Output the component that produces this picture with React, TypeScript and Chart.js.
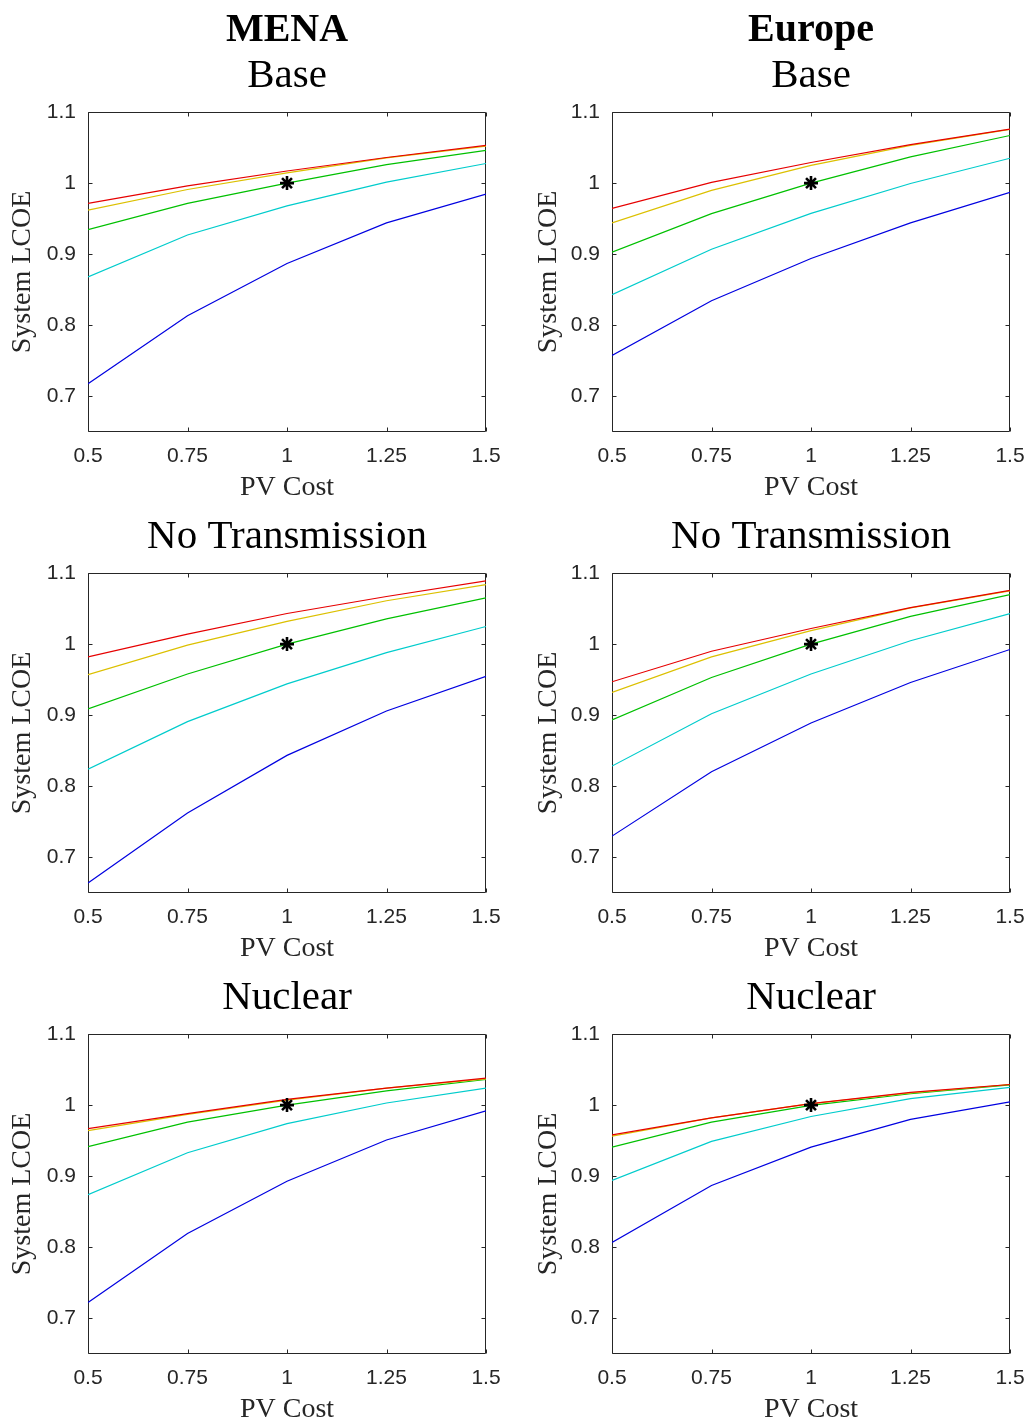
import React, { useEffect, useRef } from 'react';
import { Chart, registerables } from 'chart.js';

Chart.register(...registerables);

// ---------- data ----------
const PV_COST = [0.5, 0.75, 1, 1.25, 1.5];
const X_TICKS = [0.5, 0.75, 1, 1.25, 1.5];
const Y_TICKS = [0.7, 0.8, 0.9, 1, 1.1];
const REF_X = [1];
const REF_Y = [1];

const REGIONS = ['MENA', 'Europe'];
const SCENARIOS = ['Base', 'No Transmission', 'Nuclear'];
const SERIES_NAMES = ['Series 5', 'Series 4', 'Series 3', 'Series 2', 'Series 1'];

// MENA – Base
const MENA_BASE_RED = [0.9715, 0.996, 1.017, 1.036, 1.053];
const MENA_BASE_YELLOW = [0.962, 0.991, 1.0145, 1.0355, 1.052];
const MENA_BASE_GREEN = [0.9346, 0.9715, 1.0, 1.026, 1.046];
const MENA_BASE_CYAN = [0.868, 0.927, 0.968, 1.0014, 1.0276];
const MENA_BASE_BLUE = [0.718, 0.8135, 0.887, 0.944, 0.9846];

// Europe – Base
const EUR_BASE_RED = [0.9645, 1.001, 1.029, 1.054, 1.076];
const EUR_BASE_YELLOW = [0.944, 0.9897, 1.025, 1.053, 1.0757];
const EUR_BASE_GREEN = [0.903, 0.957, 1.0, 1.037, 1.067];
const EUR_BASE_CYAN = [0.843, 0.907, 0.9575, 0.9995, 1.035];
const EUR_BASE_BLUE = [0.7575, 0.8346, 0.894, 0.944, 0.987];

// MENA – No Transmission
const MENA_NOTX_RED = [0.982, 1.014, 1.043, 1.067, 1.089];
const MENA_NOTX_YELLOW = [0.957, 0.9986, 1.032, 1.061, 1.0836];
const MENA_NOTX_GREEN = [0.909, 0.958, 1.0, 1.0355, 1.065];
const MENA_NOTX_CYAN = [0.824, 0.891, 0.944, 0.988, 1.0248];
const MENA_NOTX_BLUE = [0.664, 0.7626, 0.8435, 0.906, 0.9547];

// Europe – No Transmission
const EUR_NOTX_RED = [0.947, 0.99, 1.022, 1.0514, 1.0757];
const EUR_NOTX_YELLOW = [0.932, 0.982, 1.019, 1.051, 1.075];
const EUR_NOTX_GREEN = [0.8935, 0.953, 1.0, 1.039, 1.0696];
const EUR_NOTX_CYAN = [0.8285, 0.902, 0.958, 1.0047, 1.043];
const EUR_NOTX_BLUE = [0.73, 0.8206, 0.889, 0.946, 0.9925];

// MENA – Nuclear
const MENA_NUC_RED = [0.967, 0.988, 1.008, 1.024, 1.038];
const MENA_NUC_YELLOW = [0.964, 0.987, 1.007, 1.024, 1.037];
const MENA_NUC_GREEN = [0.9416, 0.976, 1.0, 1.02, 1.036];
const MENA_NUC_CYAN = [0.874, 0.933, 0.974, 1.003, 1.024];
const MENA_NUC_BLUE = [0.7224, 0.8196, 0.893, 0.951, 0.992];

// Europe – Nuclear
const EUR_NUC_RED = [0.958, 0.982, 1.002, 1.018, 1.029];
const EUR_NUC_YELLOW = [0.9565, 0.982, 1.002, 1.017, 1.029];
const EUR_NUC_GREEN = [0.941, 0.976, 0.9995, 1.016, 1.0285];
const EUR_NUC_CYAN = [0.894, 0.949, 0.984, 1.009, 1.025];
const EUR_NUC_BLUE = [0.807, 0.887, 0.941, 0.98, 1.0047];

const PANEL_SERIES = [
  [
    [MENA_BASE_RED, MENA_BASE_YELLOW, MENA_BASE_GREEN, MENA_BASE_CYAN, MENA_BASE_BLUE],
    [EUR_BASE_RED, EUR_BASE_YELLOW, EUR_BASE_GREEN, EUR_BASE_CYAN, EUR_BASE_BLUE],
  ],
  [
    [MENA_NOTX_RED, MENA_NOTX_YELLOW, MENA_NOTX_GREEN, MENA_NOTX_CYAN, MENA_NOTX_BLUE],
    [EUR_NOTX_RED, EUR_NOTX_YELLOW, EUR_NOTX_GREEN, EUR_NOTX_CYAN, EUR_NOTX_BLUE],
  ],
  [
    [MENA_NUC_RED, MENA_NUC_YELLOW, MENA_NUC_GREEN, MENA_NUC_CYAN, MENA_NUC_BLUE],
    [EUR_NUC_RED, EUR_NUC_YELLOW, EUR_NUC_GREEN, EUR_NUC_CYAN, EUR_NUC_BLUE],
  ],
];

// ---------- styles ----------
const SERIES_COLORS = ['#e60000', '#dcc000', '#00c000', '#00cccc', '#0000e0'];
const SERIF = "'Liberation Serif', 'Times New Roman', serif";
const SANS = "'Liberation Sans', Arial, Helvetica, sans-serif";
const AXIS_COLOR = '#262626';

const COL_LEFT = [0, 515];
const COL_WIDTH = [515, 514];
const Y_AXIS_W = [88, 97];
const RIGHT_PAD = [29, 19];
const Y_TITLE_PAD = [9, 20];
const ROW_TOP = [0, 461, 922];
const CANVAS_H = 499;
const X_AXIS_H = 67;

const framePlugin = {
  id: 'matlabFrame',
  beforeDatasetsDraw(chart: any) {
    const { ctx, chartArea: a, scales } = chart;
    const l = Math.round(a.left) + 0.5;
    const r = Math.round(a.right) - 0.5;
    const t = Math.round(a.top) + 0.5;
    const b = Math.round(a.bottom) - 0.5;
    const tl = 4;
    ctx.save();
    ctx.strokeStyle = AXIS_COLOR;
    ctx.lineWidth = 1;
    ctx.beginPath();
    ctx.rect(l, t, r - l, b - t);
    X_TICKS.forEach((v) => {
      const px = Math.round(scales.x.getPixelForValue(v)) + 0.5;
      ctx.moveTo(px, b);
      ctx.lineTo(px, b - tl);
      ctx.moveTo(px, t);
      ctx.lineTo(px, t + tl);
    });
    Y_TICKS.forEach((v) => {
      const py = Math.round(scales.y.getPixelForValue(v)) + 0.5;
      ctx.moveTo(l, py);
      ctx.lineTo(l + tl, py);
      ctx.moveTo(r, py);
      ctx.lineTo(r - tl, py);
    });
    ctx.stroke();
    ctx.restore();
  },
};

function Panel({ row, col }: { row: number; col: number }) {
  const ref = useRef<HTMLCanvasElement | null>(null);

  useEffect(() => {
    if (!ref.current) return;
    const series = PANEL_SERIES[row][col];
    const datasets: any[] = [
      {
        label: 'Reference',
        data: REF_X.map((x, i) => ({ x, y: REF_Y[i] })),
        showLine: false,
        pointStyle: 'star',
        pointRadius: 7,
        pointBorderWidth: 2.6,
        borderColor: '#000',
        backgroundColor: '#000',
      },
      ...series.map((arr, k) => ({
        label: SERIES_NAMES[k],
        data: PV_COST.map((x, i) => ({ x, y: arr[i] })),
        borderColor: SERIES_COLORS[k],
        backgroundColor: SERIES_COLORS[k],
        borderWidth: 1.2,
        pointRadius: 0,
        tension: 0,
        fill: false,
      })),
    ];

    const chart = new Chart(ref.current, {
      type: 'line',
      data: { datasets },
      plugins: [framePlugin],
      options: {
        responsive: false,
        animation: false,
        devicePixelRatio: 1,
        layout: {
          padding: { top: row === 0 ? 0 : 51, right: RIGHT_PAD[col], left: 0, bottom: 0 },
        },
        plugins: {
          legend: { display: false },
          tooltip: { enabled: false },
          title: {
            display: row === 0,
            text: REGIONS[col],
            fullSize: false,
            color: '#000',
            font: { family: SERIF, size: 40, weight: 'bold', lineHeight: 1 },
            padding: { top: 11, bottom: 0 },
          },
          subtitle: {
            display: true,
            text: SCENARIOS[row],
            fullSize: false,
            color: '#000',
            font: { family: SERIF, size: 41, weight: 'normal', lineHeight: 1 },
            padding: { top: 5, bottom: 15 },
          },
        },
        scales: {
          x: {
            type: 'linear',
            min: 0.5,
            max: 1.5,
            grid: { display: false, drawTicks: false },
            border: { display: false },
            afterBuildTicks: (s: any) => {
              s.ticks = X_TICKS.map((v) => ({ value: v }));
            },
            afterFit: (s: any) => {
              s.height = X_AXIS_H;
              s.paddingLeft = 0;
              s.paddingRight = 0;
            },
            ticks: {
              autoSkip: false,
              maxRotation: 0,
              minRotation: 0,
              padding: 12,
              color: AXIS_COLOR,
              font: { family: SANS, size: 21 },
              callback: (v: any) => String(v),
            },
            title: {
              display: true,
              text: 'PV Cost',
              color: AXIS_COLOR,
              font: { family: SERIF, size: 28, lineHeight: 1 },
              padding: { top: 0, bottom: -3 },
            },
          },
          y: {
            type: 'linear',
            min: 0.65,
            max: 1.1,
            grid: { display: false, drawTicks: false },
            border: { display: false },
            afterBuildTicks: (s: any) => {
              s.ticks = Y_TICKS.map((v) => ({ value: v }));
            },
            afterFit: (s: any) => {
              s.width = Y_AXIS_W[col];
              s.paddingTop = 0;
              s.paddingBottom = 0;
            },
            ticks: {
              padding: 12,
              color: AXIS_COLOR,
              font: { family: SANS, size: 21 },
              callback: (v: any) => String(v),
            },
            title: {
              display: true,
              text: 'System LCOE',
              color: AXIS_COLOR,
              font: { family: SERIF, size: 28, lineHeight: 1 },
              padding: { top: Y_TITLE_PAD[col], bottom: 0 },
            },
          },
        },
      },
    } as any);

    return () => chart.destroy();
  }, [row, col]);

  return (
    <canvas
      ref={ref}
      width={COL_WIDTH[col]}
      height={CANVAS_H}
      style={{
        position: 'absolute',
        left: COL_LEFT[col],
        top: ROW_TOP[row],
        width: COL_WIDTH[col],
        height: CANVAS_H,
      }}
    />
  );
}

export default function App() {
  const cells: React.ReactElement[] = [];
  for (let r = 0; r < 3; r++) {
    for (let c = 0; c < 2; c++) {
      cells.push(<Panel key={`${r}-${c}`} row={r} col={c} />);
    }
  }
  return (
    <div
      style={{
        position: 'absolute',
        left: 0,
        top: 0,
        width: 1029,
        height: 1421,
        overflow: 'hidden',
        background: '#fff',
      }}
    >
      {cells}
    </div>
  );
}
